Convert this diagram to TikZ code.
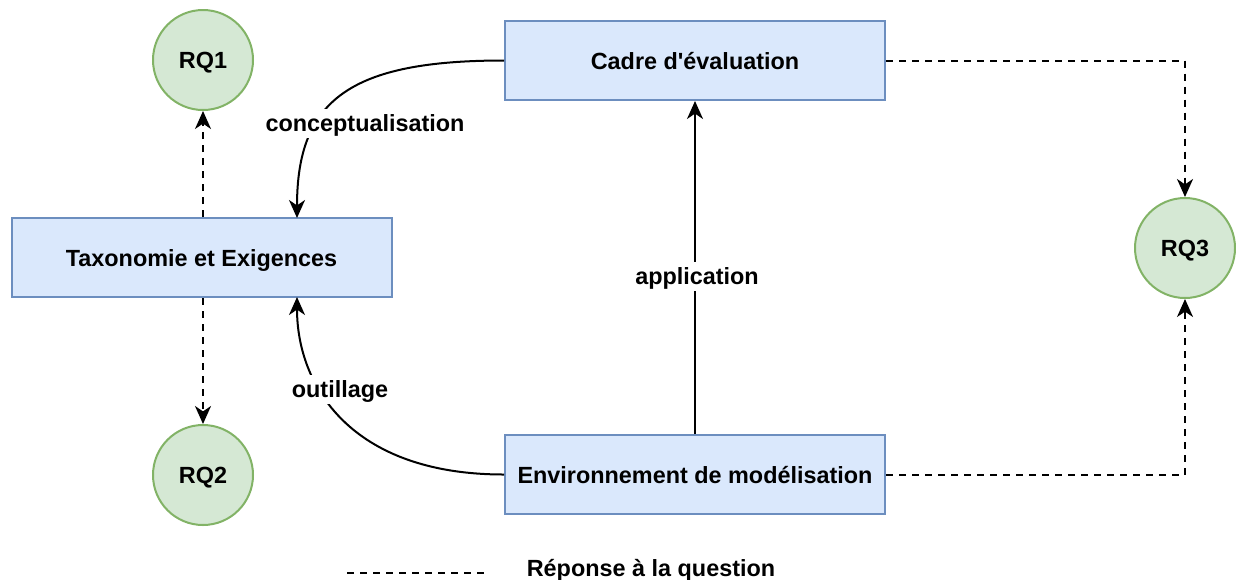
\documentclass[tikz,border=0pt]{standalone}
\usepackage{fontspec}
\setmainfont{Liberation Sans}
\usetikzlibrary{arrows.meta}
\definecolor{bfill}{HTML}{DAE8FC}
\definecolor{bline}{HTML}{6C8EBF}
\definecolor{gfill}{HTML}{D5E8D4}
\definecolor{gline}{HTML}{82B366}
\tikzset{
  txt/.style={font=\fontsize{11.7}{14}\selectfont\bfseries, text height=8.5pt, text depth=0pt},
  box/.style={draw=bline, fill=bfill, line width=1pt, minimum width=190pt, minimum height=39.5pt, inner sep=0pt, txt},
  rq/.style={circle, draw=gline, fill=gfill, line width=1pt, minimum size=50pt, inner sep=0pt, txt},
  conn/.style={line width=1pt, -{Stealth[length=9pt,width=8pt,inset=2.7pt]}},
  dconn/.style={conn, dash pattern=on 3.5pt off 3pt},
  lbl/.style={fill=white, inner xsep=1pt, inner ysep=3pt, txt}
}
\begin{document}
\begin{tikzpicture}[x=0.5pt,y=-0.5pt]
\useasboundingbox (0,0) rectangle (1236,579);
\node[rq] (rq1) at (203,60) {RQ1};
\node[rq] (rq2) at (203,475) {RQ2};
\node[rq] (rq3) at (1185,248) {RQ3};
\node[box] (cadre) at (695,60.5) {Cadre d\textquotesingle évaluation};
\node[box] (tax) at (201.5,257.5) {Taxonomie et Exigences};
\node[box] (env) at (695,474.5) {Environnement de modélisation};

\coordinate (taxtop) at (297,218);
\coordinate (taxbot) at (297,297);
\coordinate (c1) at (1185,60.5);
\coordinate (c2) at (1185,474.5);

\draw[conn] (cadre.west) .. controls (350,60.5) and (297,100) .. (taxtop);
\draw[conn] (env.west) .. controls (350,474.5) and (297,385) .. (taxbot);
\draw[conn] (env.north) -- (cadre.south);

\draw[dconn] (tax.north -| rq1.south) -- (rq1.south);
\draw[dconn] (tax.south -| rq2.north) -- (rq2.north);
\draw[dconn] (cadre.east) -- (c1) -- (rq3.north);
\draw[dconn] (env.east) -- (c2) -- (rq3.south);

\node[lbl] (l1) at (365,123) {conceptualisation};
\node[lbl] (l2) at (340,389) {outillage};
\node[lbl] (l3) at (697,276) {application};

\coordinate (lg1) at (347,573);
\coordinate (lg2) at (484,573);
\draw[line width=1pt, dash pattern=on 3.5pt off 3pt] (lg1) -- (lg2);
\node[txt] (legend) at (651,568) {Réponse à la question};
\end{tikzpicture}
\end{document}
